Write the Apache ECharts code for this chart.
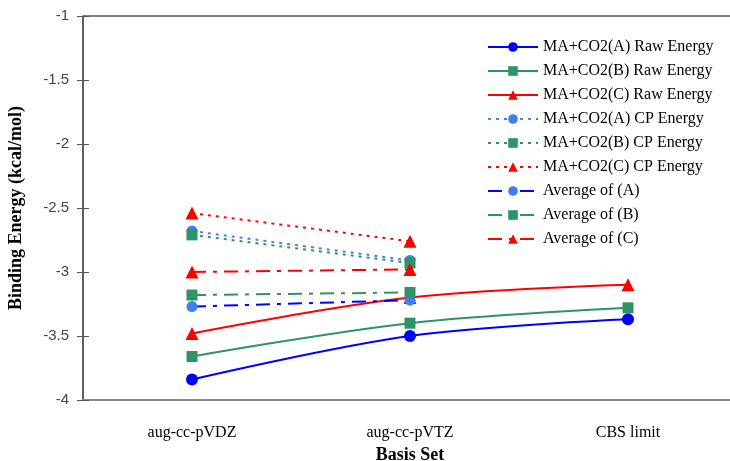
<!DOCTYPE html>
<html>
<head>
<meta charset="utf-8">
<script src="https://cdn.jsdelivr.net/npm/echarts@6/dist/echarts.min.js"></script>
<style>
  html, body { margin: 0; padding: 0; background: #fff; }
  #chart { width: 730px; height: 461px; }
</style>
</head>
<body>
<div id="chart"></div>
<script>
// categories and values
var categories = ['aug-cc-pVDZ', 'aug-cc-pVTZ', 'CBS limit'];
var yTicks = [-4, -3.5, -3, -2.5, -2, -1.5, -1];

var rawA = [-3.84, -3.50, -3.37];
var rawB = [-3.66, -3.40, -3.28];
var rawC = [-3.48, -3.20, -3.10];
var cpA = [-2.68, -2.91, null];
var cpB = [-2.71, -2.93, null];
var cpC = [-2.54, -2.76, null];
var avgA = [-3.27, -3.22, null];
var avgB = [-3.18, -3.16, null];
var avgC = [-3.00, -2.98, null];

var names = [
    'MA+CO2(A) Raw Energy', 'MA+CO2(B) Raw Energy', 'MA+CO2(C) Raw Energy',
    'MA+CO2(A) CP Energy', 'MA+CO2(B) CP Energy', 'MA+CO2(C) CP Energy',
    'Average of (A)', 'Average of (B)', 'Average of (C)'
];

var serif = '"Liberation Serif", "DejaVu Serif", serif';
var blue = '#0000ff', lightBlue = '#3f7ff0', green = '#2e9466', red = '#ff0000';
var dotted = [3, 5];
var dashDot = [14, 7, 4, 7];

function makeSeries(name, data, color, markColor, symbol, size, dash, smooth) {
    return {
        name: name,
        type: 'line',
        data: data,
        smooth: smooth ? 0.35 : false,
        symbol: symbol,
        symbolSize: size,
        showSymbol: true,
        connectNulls: false,
        lineStyle: { color: color, width: 2, type: dash || 'solid' },
        itemStyle: { color: markColor },
        emphasis: { disabled: true }
    };
}

var myChart = echarts.init(document.getElementById('chart'));
myChart.setOption({
    animation: false,
    backgroundColor: '#fff',
    grid: {
        left: 83, top: 16, width: 654, height: 384,
        outerBoundsMode: 'none',
        containLabel: false,
        show: true, borderColor: '#000', borderWidth: 1, backgroundColor: 'transparent'
    },
    legend: {
        orient: 'vertical',
        left: 482, top: 34,
        itemWidth: 50, itemHeight: 12, itemGap: 8,
        textStyle: { fontFamily: serif, fontSize: 16, color: '#000' },
        data: names
    },
    xAxis: {
        type: 'category',
        data: categories,
        boundaryGap: true,
        axisLine: { lineStyle: { color: '#888', width: 2 } },
        axisTick: { show: false },
        axisLabel: { fontFamily: serif, fontSize: 16, color: '#000', margin: 25 },
        name: 'Basis Set',
        nameLocation: 'middle',
        nameGap: 45,
        nameTextStyle: { fontFamily: serif, fontSize: 18, fontWeight: 'bold', color: '#000' }
    },
    yAxis: [{
        type: 'value',
        min: -4, max: -1, interval: 0.5,
        axisLine: { show: true, lineStyle: { color: '#555', width: 1.5 } },
        axisTick: { show: true, length: 6, lineStyle: { color: '#555' } },
        splitLine: { show: false },
        axisLabel: { fontFamily: '"Liberation Sans", Arial, sans-serif', fontSize: 15, color: '#444', margin: 14 },
        name: 'Binding Energy (kcal/mol)',
        nameLocation: 'middle',
        nameGap: 58,
        nameTextStyle: { fontFamily: serif, fontSize: 18, fontWeight: 'bold', color: '#000' }
    }, {
        type: 'value',
        position: 'left',
        min: -4, max: -1, interval: 0.5,
        axisLine: { show: false },
        axisTick: { show: true, inside: true, length: 6, lineStyle: { color: '#555' } },
        axisLabel: { show: false },
        splitLine: { show: false }
    }],
    series: [
        makeSeries(names[0], rawA, blue, blue, 'circle', 12, null, true),
        makeSeries(names[1], rawB, green, green, 'rect', 11, null, true),
        makeSeries(names[2], rawC, red, red, 'triangle', 13, null, true),
        makeSeries(names[3], cpA, '#4a7fe8', lightBlue, 'circle', 11, dotted, false),
        makeSeries(names[4], cpB, green, green, 'rect', 11, dotted, false),
        makeSeries(names[5], cpC, red, red, 'triangle', 13, dotted, false),
        makeSeries(names[6], avgA, blue, lightBlue, 'circle', 11, dashDot, false),
        makeSeries(names[7], avgB, green, green, 'rect', 11, dashDot, false),
        makeSeries(names[8], avgC, red, red, 'triangle', 13, dashDot, false)
    ]
});
</script>
</body>
</html>
